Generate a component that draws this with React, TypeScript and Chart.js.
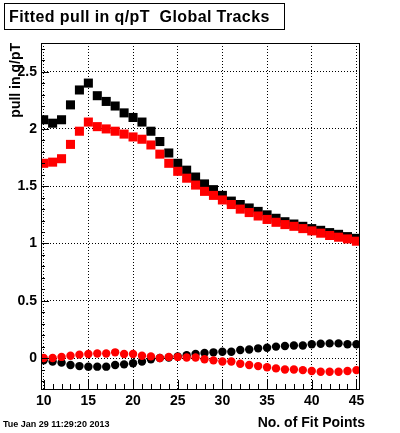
import React, { useEffect, useRef } from "react";
import { Chart, registerables } from "chart.js";

Chart.register(...registerables);

const fitPoints = [10, 11, 12, 13, 14, 15, 16, 17, 18, 19, 20, 21, 22, 23, 24, 25, 26, 27, 28, 29, 30, 31, 32, 33, 34, 35, 36, 37, 38, 39, 40, 41, 42, 43, 44, 45];

// upper squares: pull width
const blackWidth = [2.08, 2.05, 2.08, 2.21, 2.34, 2.40, 2.29, 2.24, 2.20, 2.14, 2.10, 2.06, 1.98, 1.89, 1.79, 1.70, 1.64, 1.58, 1.52, 1.47, 1.42, 1.37, 1.34, 1.31, 1.28, 1.25, 1.22, 1.19, 1.17, 1.15, 1.13, 1.115, 1.095, 1.08, 1.06, 1.045];
const redWidth = [1.70, 1.71, 1.74, 1.865, 1.98, 2.06, 2.02, 2.00, 1.98, 1.955, 1.93, 1.91, 1.86, 1.78, 1.70, 1.63, 1.57, 1.51, 1.455, 1.42, 1.38, 1.34, 1.30, 1.27, 1.24, 1.21, 1.185, 1.165, 1.15, 1.13, 1.11, 1.09, 1.07, 1.055, 1.04, 1.02];

// lower circles: pull mean
const blackMean = [-0.02, -0.03, -0.04, -0.06, -0.07, -0.075, -0.075, -0.075, -0.06, -0.055, -0.045, -0.03, -0.01, 0.0, 0.005, 0.015, 0.025, 0.035, 0.045, 0.05, 0.055, 0.055, 0.07, 0.075, 0.085, 0.09, 0.10, 0.105, 0.11, 0.11, 0.12, 0.125, 0.128, 0.128, 0.12, 0.12];
const redMean = [0.0, 0.0, 0.01, 0.02, 0.03, 0.035, 0.04, 0.04, 0.05, 0.035, 0.035, 0.02, 0.015, 0.0, 0.01, 0.01, 0.005, 0.005, -0.01, -0.02, -0.03, -0.03, -0.05, -0.06, -0.07, -0.08, -0.09, -0.10, -0.10, -0.105, -0.113, -0.12, -0.12, -0.12, -0.113, -0.105];

const xTickValues = [10, 15, 20, 25, 30, 35, 40, 45];
const yTickValues = [0, 0.5, 1, 1.5, 2, 2.5];
const xRange = [9.7, 45.4];
const yRange = [-0.27, 2.75];

const titleText = "Fitted pull in q/pT  Global Tracks";
const xTitle = "No. of Fit Points";
const yTitle = "pull in q/pT";
const dateText = "Tue Jan 29 11:29:20 2013";

const FONT = "'Liberation Sans', Arial, Helvetica, sans-serif";

const toPoints = (ys: number[]) => fitPoints.map((x, i) => ({ x, y: ys[i] }));

const rootDecor = {
  id: "rootDecor",
  afterDatasetsDraw(chart: any) {
    const { ctx, chartArea: a, scales } = chart;
    const xs = scales.x;
    const ys = scales.y;
    ctx.save();
    ctx.strokeStyle = "#000";
    ctx.lineWidth = 1;
    ctx.setLineDash([]);
    ctx.beginPath();
    for (let v = Math.ceil(xRange[0]); v <= Math.floor(xRange[1]); v++) {
      const px = Math.round(xs.getPixelForValue(v)) + 0.5;
      const len = xTickValues.includes(v) ? 9 : 5;
      ctx.moveTo(px, a.bottom);
      ctx.lineTo(px, a.bottom - len);
    }
    for (let i = -2; i <= 27; i++) {
      const v = i / 10;
      const py = Math.round(ys.getPixelForValue(v)) + 0.5;
      const len = i % 5 === 0 ? 8 : 4;
      ctx.moveTo(a.left, py);
      ctx.lineTo(a.left + len, py);
    }
    ctx.stroke();
    ctx.strokeRect(Math.round(a.left) + 0.5, Math.round(a.top) + 0.5, Math.round(a.right - a.left) - 1, Math.round(a.bottom - a.top));
    ctx.restore();
  },
  afterDraw(chart: any) {
    const { ctx, chartArea: a } = chart;
    ctx.save();
    // title box
    ctx.fillStyle = "#fff";
    ctx.fillRect(4, 3, 281, 27);
    ctx.strokeStyle = "#000";
    ctx.lineWidth = 1;
    ctx.strokeRect(4.5, 3.5, 280, 26);
    ctx.fillStyle = "#000";
    ctx.font = `bold 16px ${FONT}`;
    ctx.textAlign = "left";
    ctx.textBaseline = "alphabetic";
    try { (ctx as any).letterSpacing = "0.4px"; } catch (e) {}
    ctx.fillText(titleText, 9, 22);
    try { (ctx as any).letterSpacing = "0px"; } catch (e) {}
    // x axis title, right-aligned slightly past the frame like the original
    ctx.font = `bold 14px ${FONT}`;
    ctx.textAlign = "right";
    ctx.fillText(xTitle, a.right + 5, 427);
    // date stamp
    ctx.textAlign = "left";
    ctx.font = `bold 9px ${FONT}`;
    ctx.fillText(dateText, 3, 427);
    ctx.restore();
  },
};

export default function App() {
  const canvasRef = useRef<HTMLCanvasElement | null>(null);

  useEffect(() => {
    const canvas = canvasRef.current;
    if (!canvas) return;
    const tickFont = { family: FONT, size: 14, weight: "bold" as const };
    const chart = new Chart(canvas, {
      type: "scatter",
      data: {
        datasets: [
          { label: "red width", data: toPoints(redWidth), pointStyle: "rect", pointRadius: 6.4, pointBorderWidth: 0, backgroundColor: "#ff0000", borderColor: "#ff0000", clip: 0 },
          { label: "red mean", data: toPoints(redMean), pointStyle: "circle", pointRadius: 4.2, pointBorderWidth: 0, backgroundColor: "#ff0000", borderColor: "#ff0000", clip: 0 },
          { label: "black width", data: toPoints(blackWidth), pointStyle: "rect", pointRadius: 6.4, pointBorderWidth: 0, backgroundColor: "#000000", borderColor: "#000000", clip: 0 },
          { label: "black mean", data: toPoints(blackMean), pointStyle: "circle", pointRadius: 4.2, pointBorderWidth: 0, backgroundColor: "#000000", borderColor: "#000000", clip: 0 },
        ],
      },
      options: {
        animation: false,
        responsive: false,
        devicePixelRatio: 1,
        events: [],
        layout: { padding: { top: 43, right: 40, left: 0, bottom: 0 } },
        plugins: { legend: { display: false }, tooltip: { enabled: false }, title: { display: false } },
        scales: {
          x: {
            type: "linear",
            min: xRange[0],
            max: xRange[1],
            afterBuildTicks: (s: any) => { s.ticks = xTickValues.map((v) => ({ value: v })); },
            afterFit: (s: any) => { s.height = 44; },
            ticks: { font: tickFont, color: "#000", padding: 4, maxRotation: 0, autoSkip: false, callback: (v: any) => String(v) },
            grid: { color: "#000", lineWidth: 1, drawTicks: false },
            border: { display: false, dash: [1, 2] },
            title: { display: false, text: xTitle },
          },
          y: {
            type: "linear",
            min: yRange[0],
            max: yRange[1],
            afterBuildTicks: (s: any) => { s.ticks = yTickValues.map((v) => ({ value: v })); },
            afterFit: (s: any) => { s.width = 41; },
            ticks: { font: tickFont, color: "#000", padding: 4, autoSkip: false, callback: (v: any) => String(v) },
            grid: { color: "#000", lineWidth: 1, drawTicks: false },
            border: { display: false, dash: [1, 2] },
            title: { display: true, text: yTitle, align: "end", color: "#000", font: tickFont, padding: { top: 8, bottom: 0 } },
          },
        },
      },
      plugins: [rootDecor],
    });
    return () => chart.destroy();
  }, []);

  return (
    <div style={{ position: "absolute", left: 0, top: 0, width: 400, height: 433, background: "#fff" }}>
      <canvas ref={canvasRef} width={400} height={433} style={{ display: "block", width: 400, height: 433 }} />
    </div>
  );
}
